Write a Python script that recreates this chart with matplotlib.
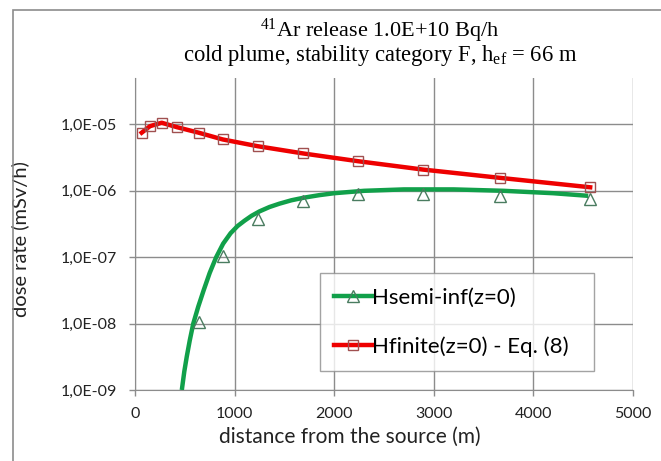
import numpy as np
import matplotlib
matplotlib.use("Agg")
import matplotlib.pyplot as plt
from matplotlib.lines import Line2D
from matplotlib.patches import Rectangle
from matplotlib.ticker import FixedLocator, FuncFormatter

plt.rcParams["font.family"] = ["Lato", "DejaVu Sans"]
plt.rcParams["mathtext.fontset"] = "custom"
plt.rcParams["mathtext.rm"] = "Liberation Serif"
plt.rcParams["mathtext.it"] = "Liberation Serif:italic"

# marker positions (m)
red_x = [67, 150, 268, 419, 640, 880, 1230, 1690, 2240, 2890, 3660, 4570]
red_y = [7.5e-6, 9.4e-6, 1.06e-5, 9.1e-6, 7.5e-6, 5.94e-6, 4.7e-6,
         3.65e-6, 2.79e-6, 2.09e-6, 1.57e-6, 1.13e-6]

green_x = [640, 880, 1230, 1690, 2240, 2890, 3660, 4570]
green_y = [1.07e-8, 1.03e-7, 3.7e-7, 6.95e-7, 8.8e-7, 9.1e-7, 8.3e-7, 7.4e-7]

# green curve as drawn
curve_x = [470, 495, 520, 550, 585, 635, 690, 750, 815, 885, 960, 1030,
           1100, 1170, 1250, 1350, 1450, 1570, 1700, 1850, 2000, 2300, 2700,
           3200, 3700, 4200, 4550]
curve_y = [1e-9, 1.9e-9, 3.2e-9, 5.6e-9, 1e-8, 1.8e-8, 3.2e-8, 5.8e-8,
           1e-7, 1.6e-7, 2.3e-7, 2.95e-7, 3.55e-7, 4.2e-7, 4.9e-7, 5.7e-7,
           6.4e-7, 7.2e-7, 7.9e-7, 8.6e-7, 9.2e-7, 1.0e-6, 1.05e-6, 1.05e-6,
           1.0e-6, 9.2e-7, 8.4e-7]

x_ticks = [0, 1000, 2000, 3000, 4000, 5000]
y_ticks = [1e-9, 1e-8, 1e-7, 1e-6, 1e-5]

red = "#ee0000"
green = "#11a04a"
grid = "#8c8c8c"

fig = plt.figure(figsize=(6.61, 4.61), dpi=100)
ax = fig.add_axes([135 / 661, 71 / 461, 498 / 661, 312 / 461])

fig.patches.append(Rectangle((13 / 661, -0.05), 1.0, 1 - 10 / 461 + 0.05,
                             transform=fig.transFigure, fill=False,
                             edgecolor=grid, lw=1.2))

ax.plot(curve_x, curve_y, color=green, lw=3.2, solid_capstyle="butt",
        solid_joinstyle="round", zorder=3)
ax.plot(green_x, green_y, ls="none", marker="^", ms=8.5, mfc="none",
        mec="#4a7c60", mew=1.0, zorder=4)
ax.plot(red_x, red_y, color=red, lw=3.2, solid_joinstyle="round", zorder=3)
ax.plot(red_x, red_y, ls="none", marker="s", ms=7.5, mfc="none",
        mec="#a05050", mew=1.0, zorder=4)

ax.set_yscale("log")
ax.set_xlim(0, 5000)
ax.set_ylim(1e-9, 5e-5)
ax.xaxis.set_major_locator(FixedLocator(x_ticks))
ax.yaxis.set_major_locator(FixedLocator(y_ticks))
ax.yaxis.set_minor_locator(FixedLocator([]))
ax.yaxis.set_major_formatter(FuncFormatter(
    lambda v, p: "1,0E-%02d" % abs(int(round(np.log10(v))))))

ax.grid(True, color=grid, lw=1.0)
ax.set_axisbelow(True)
for s in ["top", "right"]:
    ax.spines[s].set_visible(False)
for s in ["left", "bottom"]:
    ax.spines[s].set_color(grid)
ax.tick_params(colors=grid, labelcolor="#222222", labelsize=11.5,
               length=4, width=1.0)
ax.tick_params(axis="y", pad=9)
ax.tick_params(axis="x", pad=8)

ax.set_xlabel("distance from the source (m)", fontsize=15, color="#222222")
ax.xaxis.set_label_coords(0.432, -0.118)
ax.set_ylabel("dose rate (mSv/h)", fontsize=14.5, color="#222222")
ax.yaxis.set_label_coords(-0.212, 0.484)

fig.text(380 / 661, 1 - 31 / 461, r"$^{41}$Ar release 1.0E+10 Bq/h",
         ha="center", va="center", fontsize=16, family="Liberation Serif")
fig.text(380 / 661, 1 - 55 / 461,
         r"cold plume, stability category F, h$_{\rm ef}$ = 66 m",
         ha="center", va="center", fontsize=16.3, family="Liberation Serif")

handles = [
    Line2D([], [], color=green, lw=3.2, marker="^", ms=8.5, mfc="none",
           mec="#4a7c60"),
    Line2D([], [], color=red, lw=3.2, marker="s", ms=7.5, mfc="none",
           mec="#a05050"),
]
leg = ax.legend(handles, ["Hsemi-inf(z=0)", "Hfinite(z=0) - Eq. (8)"],
                loc="upper left", bbox_to_anchor=(0.371, 0.07, 0.55, 0.305),
                mode="expand", fontsize=16, frameon=True, fancybox=False,
                handlelength=1.7, handletextpad=0.0, labelspacing=1.3,
                borderpad=0.65, borderaxespad=0)
leg.get_frame().set_edgecolor(grid)
leg.get_frame().set_linewidth(1.0)

plt.savefig("out.png", dpi=100)
plt.close()
